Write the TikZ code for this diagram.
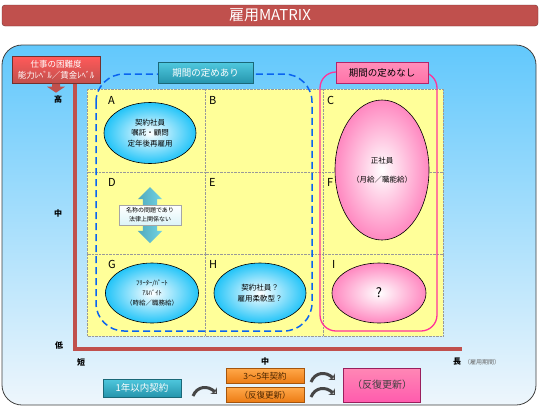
\documentclass[tikz,border=0pt]{standalone}
\usepackage{fontspec}
\setmainfont{Noto Sans CJK JP}
\usetikzlibrary{shapes,shapes.arrows,arrows.meta}

\definecolor{titlered}{HTML}{C0504D}
\definecolor{bgtop}{HTML}{62C8FC}
\definecolor{bgbottom}{HTML}{EEF6FC}
\definecolor{cellyellow}{HTML}{FFFF99}
\definecolor{ovalblue}{HTML}{22C4F8}
\definecolor{ovalpink}{HTML}{FF88C0}
\definecolor{pinkline}{HTML}{FF3399}
\definecolor{tealtop}{HTML}{4FC8DE}
\definecolor{tealbot}{HTML}{2594AC}
\definecolor{pinktag}{HTML}{FF72A8}
\definecolor{orangetop}{HTML}{FFA849}
\definecolor{orangebot}{HTML}{EC7A12}
\definecolor{dashblue}{HTML}{0A64F0}

\begin{document}
\begin{tikzpicture}[x=1pt,y=-1pt,
  cell/.style={draw=gray!80, densely dotted, fill=cellyellow},
  letter/.style={anchor=west, inner sep=0, font=\fontsize{11}{11}\selectfont},
  blueoval/.style={ellipse, draw=black, line width=0.6, inner color=white, outer color=ovalblue, align=center, inner sep=0, font=\fontsize{7.5}{10.5}\selectfont},
  pinkoval/.style={ellipse, draw=black, line width=0.6, inner color=white, outer color=ovalpink, align=center, inner sep=0, font=\fontsize{7.5}{10.5}\selectfont},
  tealtag/.style={draw=tealbot!70!black, top color=tealtop, bottom color=tealbot, text=white, inner sep=0, font=\fontsize{9.5}{9.5}\selectfont},
  orangetag/.style={draw=orangebot!70!black, top color=orangetop, bottom color=orangebot, text=black!70!orange, minimum width=78, minimum height=15, inner sep=0, font=\fontsize{8.5}{8.5}\selectfont},
  axislbl/.style={inner sep=0, font=\bfseries\fontsize{8}{8}\selectfont},
  turn/.style={line width=3, gray!55!black, -{Stealth[length=5pt,width=9pt,open,fill=gray!40]}}]
\useasboundingbox (0,0) rectangle (540,408);

\node[draw=titlered!60!black, fill=titlered, rounded corners=3, minimum width=536, minimum height=21, inner sep=0, text=white, font=\fontsize{15}{15}\selectfont] (title) at (270,15.5) {雇用MATRIX};

\draw[draw=black!75, line width=0.8, rounded corners=20, top color=bgtop, bottom color=bgbottom] (2,45) rectangle (536,405);

\foreach \x/\xx in {87/205,205/323,323/443}
  \foreach \y/\yy in {89/172,172/254,254/336}
    \draw[cell] (\x,\y) rectangle (\xx,\yy);

\draw[dashblue, line width=1.5, dash pattern=on 7pt off 4pt, rounded corners=28] (96,74) rectangle (312,331);
\draw[pinkline, line width=1.3, rounded corners=16] (320,72) rectangle (437,331);

\node[blueoval, minimum width=92, minimum height=61] (ovalA) at (150,133) {契約社員\\嘱託・顧問\\定年後再雇用};
\node[pinkoval, minimum width=94, minimum height=140] (ovalCF) at (382,170) {正社員\\[9pt]（月給／職能給）};
\node[blueoval, minimum width=93, minimum height=60, font=\fontsize{6.5}{10}\selectfont] (ovalG) at (152,293) {ﾌﾘｰﾀｰ/ﾊﾟｰﾄ\\ｱﾙﾊﾞｲﾄ\\（時給／職務給）};
\node[blueoval, minimum width=92, minimum height=60] (ovalH) at (260,293) {契約社員？\\雇用柔軟型？};
\node[pinkoval, minimum width=94, minimum height=60, font=\fontsize{13}{13}\selectfont] (ovalI) at (379,293) {?};

\node[letter] (lA) at (108,100) {A};
\node[letter] (lB) at (209,100) {B};
\node[letter] (lC) at (327,100) {C};
\node[letter] (lD) at (108,182) {D};
\node[letter] (lE) at (209,182) {E};
\node[letter] (lF) at (327,182) {F};
\node[letter] (lG) at (108,264) {G};
\node[letter] (lH) at (209,264) {H};
\node[letter, font=\rmfamily\fontsize{11}{11}\selectfont] (lI) at (332,264) {I};

\node[double arrow, rotate=90, minimum height=56, inner sep=7pt, double arrow head extend=5pt, left color=tealbot!80, right color=tealtop!80, draw=none] (arrowD) at (150,215) {};
\node[draw=gray!70, top color=white, bottom color=tealtop!20, minimum width=62, minimum height=20, inner sep=0, align=center, font=\fontsize{6}{9}\selectfont] (noteD) at (150,215) {名称の問題であり\\法律上関係ない};

\node[tealtag, minimum width=95, minimum height=21] (fixedlbl) at (205.5,73) {期間の定めあり};
\node[draw=pinkline!70!black, top color=pinktag!80, bottom color=pinktag, minimum width=92, minimum height=21, inner sep=0, font=\fontsize{9.5}{9.5}\selectfont] (openlbl) at (382,73) {期間の定めなし};

\node[draw=titlered!60!black, top color=red!65!white, bottom color=titlered, minimum width=88, minimum height=27, inner sep=0, align=center, text=white, font=\fontsize{8.5}{11}\selectfont] (hardlbl) at (56,70) {仕事の困難度\\能力ﾚﾍﾞﾙ／賃金ﾚﾍﾞﾙ};
\fill[titlered] ([xshift=-4pt]hardlbl.south) -- ++(0,3) -- ++(-5,0) -- ++(9,6) -- ++(9,-6) -- ++(-5,0) -- ++(0,-3) -- cycle;

\fill[titlered] (73,84) rectangle (77,351);
\fill[titlered] (73,347) rectangle (462,351);

\node[axislbl] (yhigh) at (58,99) {高};
\node[axislbl] (ymid) at (58,213) {中};
\node[axislbl] (ylow) at (59,345) {低};
\node[axislbl] (xshort) at (81,362) {短};
\node[axislbl] (xmid) at (265,361) {中};
\node[axislbl] (xlong) at (457,362) {長};
\node[anchor=west, inner sep=0, text=gray!80!black, font=\fontsize{6}{6}\selectfont] (xname) at (464,362) {（雇用期間）};

\node[tealtag, minimum width=78, minimum height=18] (oneyr) at (142,388) {1年以内契約};
\node[orangetag] (midyr) at (265,376) {3～5年契約};
\node[orangetag] (midrenew) at (265,395) {（反復更新）};
\node[draw=pinkline!60!black, top color=pinktag!85, bottom color=pinkline!80, minimum width=77, minimum height=34, inner sep=0, text=black!75, font=\fontsize{10}{10}\selectfont] (renew) at (382,385) {（反復更新）};

\foreach \x/\y in {205/392,323/378,323/393}
  \draw[turn] (\x-12,\y+4) .. controls (\x-8,\y-6) and (\x+3,\y-7) .. (\x+12,\y+2);
\end{tikzpicture}
\end{document}
